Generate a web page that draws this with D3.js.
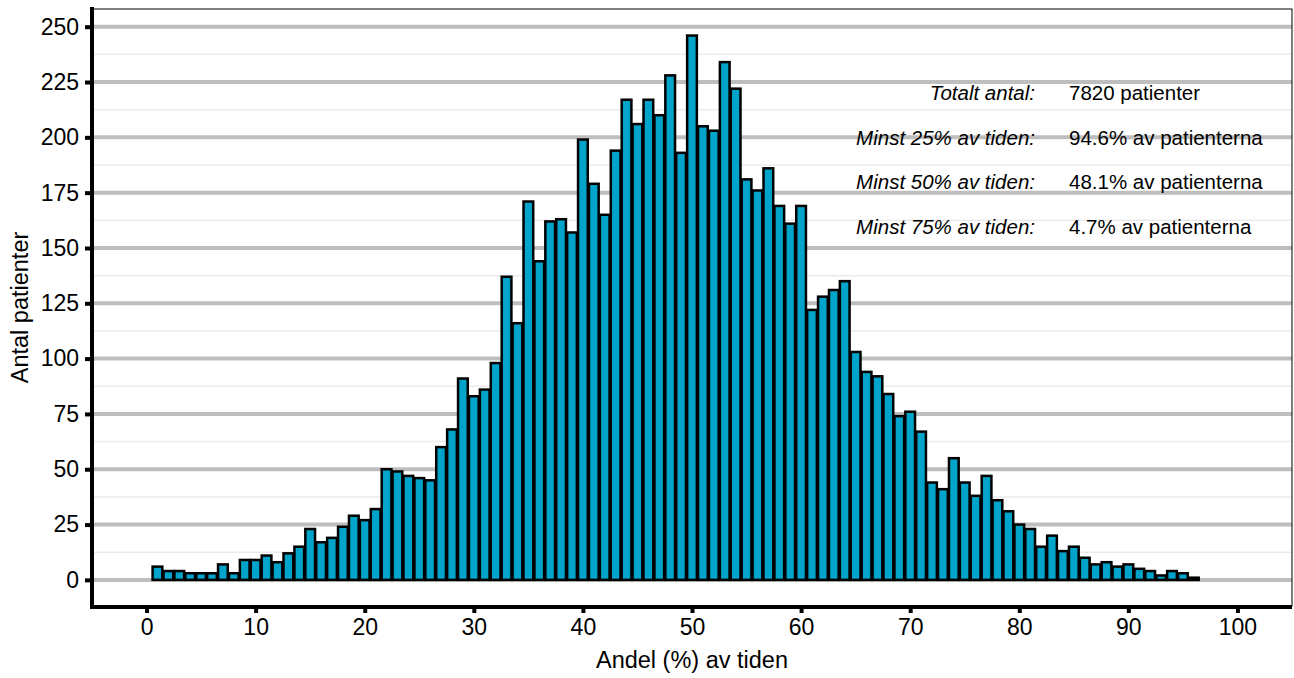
<!DOCTYPE html>
<html>
<head>
<meta charset="utf-8">
<script src="https://cdn.jsdelivr.net/npm/d3@7"></script>
<style>
  body { margin: 0; background: #fff; }
  text { font-family: "Liberation Sans", Arial, sans-serif; }
</style>
</head>
<body>
<div id="chart"></div>
<script>

// andel (%) av tiden, one bin per percent
var percents = d3.range(1, 97);

var patients = [
    6, 4, 4, 3, 3, 3, 7, 3, 9, 9,
    11, 8, 12, 15, 23, 17, 19, 24, 29, 27,
    32, 50, 49, 47, 46, 45, 60, 68, 91, 83,
    86, 98, 137, 116, 171, 144, 162, 163, 157, 199,
    179, 165, 194, 217, 206, 217, 210, 228, 193, 246,
    205, 203, 234, 222, 181, 176, 186, 169, 161, 169,
    122, 128, 131, 135, 103, 94, 92, 84, 74, 76,
    67, 44, 41, 55, 44, 38, 47, 36, 31, 25,
    23, 15, 20, 13, 15, 10, 7, 8, 6, 7,
    5, 4, 2, 4, 3, 1
];

var x_ticks = d3.range(0, 101, 10);
var y_ticks = d3.range(0, 251, 25);
var y_minor = d3.range(12.5, 251, 25);

var note_labels = ["Totalt antal:", "Minst 25% av tiden:", "Minst 50% av tiden:", "Minst 75% av tiden:"];
var note_values = ["7820 patienter", "94.6% av patienterna", "48.1% av patienterna", "4.7% av patienterna"];

var W = 1294, H = 678;
var left = 92, right = 1292, top_ = 9, bottom = 606;

var svg = d3.select("#chart").append("svg")
    .attr("width", W)
    .attr("height", H);

var x = d3.scaleLinear().domain([-5, 105]).range([left, right]);
var y = d3.scaleLinear().domain([-11.8, 258]).range([bottom, top_]);

// grid
svg.append("g").selectAll("line")
    .data(y_minor)
    .join("line")
    .attr("x1", left).attr("x2", right)
    .attr("y1", d => y(d)).attr("y2", d => y(d))
    .attr("stroke", "#ebebeb")
    .attr("stroke-width", 1.5);

svg.append("g").selectAll("line")
    .data(y_ticks)
    .join("line")
    .attr("x1", left).attr("x2", right)
    .attr("y1", d => y(d)).attr("y2", d => y(d))
    .attr("stroke", "#bebebe")
    .attr("stroke-width", 4);

// bars
var bw = x(1) - x(0);
svg.append("g").selectAll("rect")
    .data(percents)
    .join("rect")
    .attr("x", d => x(d) - bw / 2 + 0.6)
    .attr("y", (d, i) => y(patients[i]))
    .attr("width", bw - 1.2)
    .attr("height", (d, i) => y(0) - y(patients[i]))
    .attr("fill", "#00a4cb")
    .attr("stroke", "#000")
    .attr("stroke-width", 2.5);

// thin panel border
svg.append("rect")
    .attr("x", left).attr("y", top_)
    .attr("width", right - left).attr("height", bottom - top_)
    .attr("fill", "none")
    .attr("stroke", "#000")
    .attr("stroke-width", 1);

// axes
var gx = svg.append("g")
    .attr("transform", "translate(0," + (bottom + 1) + ")")
    .call(d3.axisBottom(x).tickValues(x_ticks).tickSize(6).tickPadding(6).tickFormat(d3.format("d")));

var gy = svg.append("g")
    .attr("transform", "translate(" + (left - 1) + ",0)")
    .call(d3.axisLeft(y).tickValues(y_ticks).tickSize(6).tickPadding(6).tickFormat(d3.format("d")));

[gx, gy].forEach(g => {
    g.select(".domain").remove();
    g.selectAll(".tick line").attr("stroke", "#000").attr("stroke-width", 4);
    g.selectAll(".tick text")
        .attr("fill", "#000")
        .style("font-size", "23px")
        .style("font-family", "'Liberation Sans', Arial, sans-serif");
});

svg.append("line")
    .attr("x1", left).attr("x2", left)
    .attr("y1", top_ - 2).attr("y2", bottom + 2)
    .attr("stroke", "#000").attr("stroke-width", 4);

svg.append("line")
    .attr("x1", left - 2).attr("x2", right)
    .attr("y1", bottom + 1).attr("y2", bottom + 1)
    .attr("stroke", "#000").attr("stroke-width", 4);

// axis titles
svg.append("text")
    .attr("x", x(50))
    .attr("y", 668)
    .attr("text-anchor", "middle")
    .style("font-size", "23.5px")
    .text("Andel (%) av tiden");

svg.append("text")
    .attr("transform", "translate(28," + ((top_ + bottom) / 2) + ") rotate(-90)")
    .attr("text-anchor", "middle")
    .style("font-size", "23.5px")
    .text("Antal patienter");

// summary notes
var notes = svg.append("g");
note_labels.forEach((t, i) => {
    var yy = 93 + i * 44.6;
    notes.append("text")
        .attr("x", 1035)
        .attr("y", yy)
        .attr("dy", "0.35em")
        .attr("text-anchor", "end")
        .style("font-size", "20.5px")
        .style("font-style", "italic")
        .text(t);
    notes.append("text")
        .attr("x", 1069)
        .attr("y", yy)
        .attr("dy", "0.35em")
        .style("font-size", "20.5px")
        .text(note_values[i]);
});

</script>
</body>
</html>
